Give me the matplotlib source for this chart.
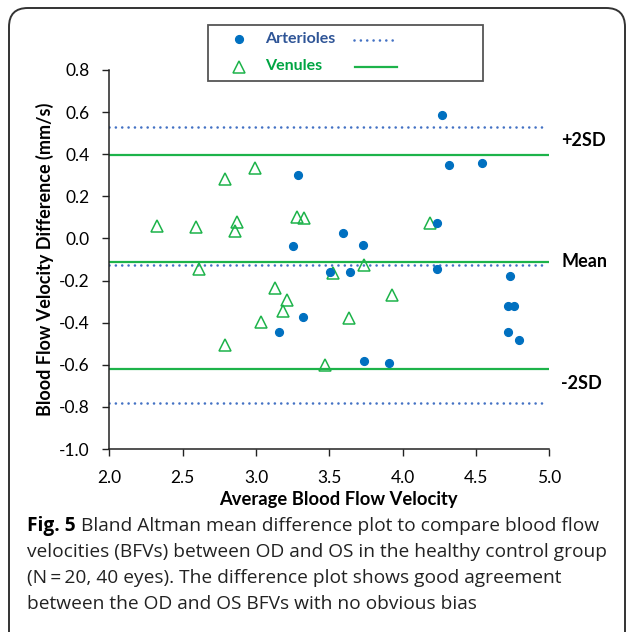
import matplotlib
matplotlib.use("Agg")
import matplotlib.pyplot as plt
from matplotlib.patches import FancyBboxPatch, Rectangle
from matplotlib.lines import Line2D

# данные
art_x = [3.286, 3.254, 3.322, 3.158, 3.507, 3.594, 3.642, 3.730, 3.735, 3.907,
         4.267, 4.318, 4.539, 4.233, 4.236, 4.735, 4.719, 4.756, 4.717, 4.792]
art_y = [0.302, -0.037, -0.372, -0.442, -0.158, 0.024, -0.157, -0.033, -0.583, -0.592,
         0.586, 0.347, 0.359, 0.071, -0.144, -0.176, -0.320, -0.320, -0.442, -0.483]

ven_x = [2.325, 2.590, 2.610, 2.790, 2.990, 2.870, 2.856, 2.790, 3.037, 3.128,
         3.215, 3.185, 3.280, 3.325, 3.470, 3.527, 3.633, 3.740, 3.930, 4.190]
ven_y = [0.060, 0.052, -0.143, 0.282, 0.334, 0.076, 0.033, -0.508, -0.395, -0.233,
         -0.290, -0.344, 0.104, 0.095, -0.600, -0.163, -0.377, -0.124, -0.270, 0.074]

# средняя разница и границы согласия (+2SD, Mean, -2SD)
art_lines = [0.530, -0.125, -0.781]
ven_lines = [0.395, -0.111, -0.619]
line_labels = ["+2SD", "Mean", "-2SD"]
label_y = [0.465, -0.111, -0.69]

x_ticks = [2.0, 2.5, 3.0, 3.5, 4.0, 4.5, 5.0]
y_ticks = [0.8, 0.6, 0.4, 0.2, 0.0, -0.2, -0.4, -0.6, -0.8, -1.0]

blue_dot = "#0070C0"
blue_line = "#4472C4"
green = "#1DB34A"

W, H = 627, 632
fig = plt.figure(figsize=(W / 100, H / 100), dpi=100)
chart_font = "Lato"

ax = fig.add_axes([109.3 / W, 1 - 449 / H, (549.3 - 109.3) / W, (449 - 70) / H])

for v in art_lines:
    ax.plot([2.0, 4.98], [v, v], color=blue_line, lw=1.9,
            linestyle=(0, (0.01, 2.4)), dash_capstyle="round", zorder=2)
for v in ven_lines:
    ax.plot([2.0, 5.0], [v, v], color=green, lw=1.6, zorder=2)

ax.plot(art_x, art_y, "o", color=blue_dot, ms=5.6, mec=blue_dot, zorder=4, clip_on=False)
ax.plot(ven_x, ven_y, "^", mfc="none", mec=green, ms=9, mew=1.1, zorder=3, clip_on=False)

for lab, yy in zip(line_labels, label_y):
    ax.text(5.08, yy, lab, fontsize=13, fontweight="bold", family=chart_font,
            ha="left", va="center", clip_on=False)

ax.set_xlim(2.0, 5.0)
ax.set_ylim(-1.0, 0.8)
ax.set_xticks(x_ticks)
ax.set_xticklabels([f"{t:.1f}" for t in x_ticks], family=chart_font, fontsize=12.5)
ax.set_yticks(y_ticks)
ax.set_yticklabels([f"{t:.1f}" for t in y_ticks], family=chart_font, fontsize=12.5)
ax.tick_params(direction="out", length=5, width=1, color="#222222")
ax.tick_params(axis="y", pad=9)
ax.tick_params(axis="x", pad=10)
for s in ["top", "right"]:
    ax.spines[s].set_visible(False)
for s in ["left", "bottom"]:
    ax.spines[s].set_linewidth(1.1)
    ax.spines[s].set_color("#222222")

ax.set_xlabel("Average Blood Flow Velocity", fontsize=13.2, fontweight="bold",
              family=chart_font)
ax.xaxis.set_label_coords(0.52, -0.11)
ax.set_ylabel("Blood Flow Velocity Difference (mm/s)", fontsize=13, fontweight="bold",
              family=chart_font, labelpad=4)

# легенда в рамке
fig.patches.append(Rectangle((208 / W, 1 - 81 / H), (483 - 208) / W, (81 - 25) / H,
                             transform=fig.transFigure, fill=False, lw=1.3,
                             edgecolor="#555555"))
fig.lines.append(Line2D([239 / W], [1 - 39 / H], marker="o", ms=5.6, color=blue_dot,
                        transform=fig.transFigure))
fig.lines.append(Line2D([239 / W], [1 - 67 / H], marker="^", ms=9, mfc="none",
                        mec=green, mew=1.1, transform=fig.transFigure))
fig.lines.append(Line2D([354 / W, 396 / W], [1 - 40 / H, 1 - 40 / H], color=blue_line,
                        lw=1.9, linestyle=(0, (0.01, 2.4)), dash_capstyle="round",
                        transform=fig.transFigure))
fig.lines.append(Line2D([355 / W, 397 / W], [1 - 67 / H, 1 - 67 / H], color=green,
                        lw=1.6, transform=fig.transFigure))
fig.text(265 / W, 1 - 39 / H, "Arterioles", color="#2F5597", fontsize=11.5,
         fontweight="bold", family=chart_font, va="center")
fig.text(265 / W, 1 - 66 / H, "Venules", color="#00A543", fontsize=11.5,
         fontweight="bold", family=chart_font, va="center")

# внешняя скруглённая рамка
fig.patches.append(FancyBboxPatch((9 / W, -20 / H), (625 - 9) / W, (H - 8 + 20) / H,
                                  boxstyle="round,pad=0,rounding_size=0.03",
                                  transform=fig.transFigure, fill=False, lw=1.4,
                                  edgecolor="#333333", mutation_aspect=W / H))

# подпись к рисунку
cap_font = "Open Sans"
cap_size = 13.8
cap_lines = ["Bland Altman mean difference plot to compare blood flow",
             "velocities (BFVs) between OD and OS in the healthy control group",
             "(N\u2009=\u200920, 40 eyes). The difference plot shows good agreement",
             "between the OD and OS BFVs with no obvious bias"]
cap_y = [526, 552, 578, 604]
fig_lbl = fig.text(27 / W, 1 - cap_y[0] / H, "Fig. 5", fontsize=cap_size,
                   fontweight="bold", family=cap_font, va="center")
fig.canvas.draw()
bb = fig_lbl.get_window_extent()
fig.text(bb.x1 / W + 5 / W, 1 - cap_y[0] / H, cap_lines[0], fontsize=cap_size,
         family=cap_font, va="center", color="#222222")
for txt, yy in zip(cap_lines[1:], cap_y[1:]):
    fig.text(27 / W, 1 - yy / H, txt, fontsize=cap_size, family=cap_font,
             va="center", color="#222222")

fig.savefig("out.png", dpi=100)
